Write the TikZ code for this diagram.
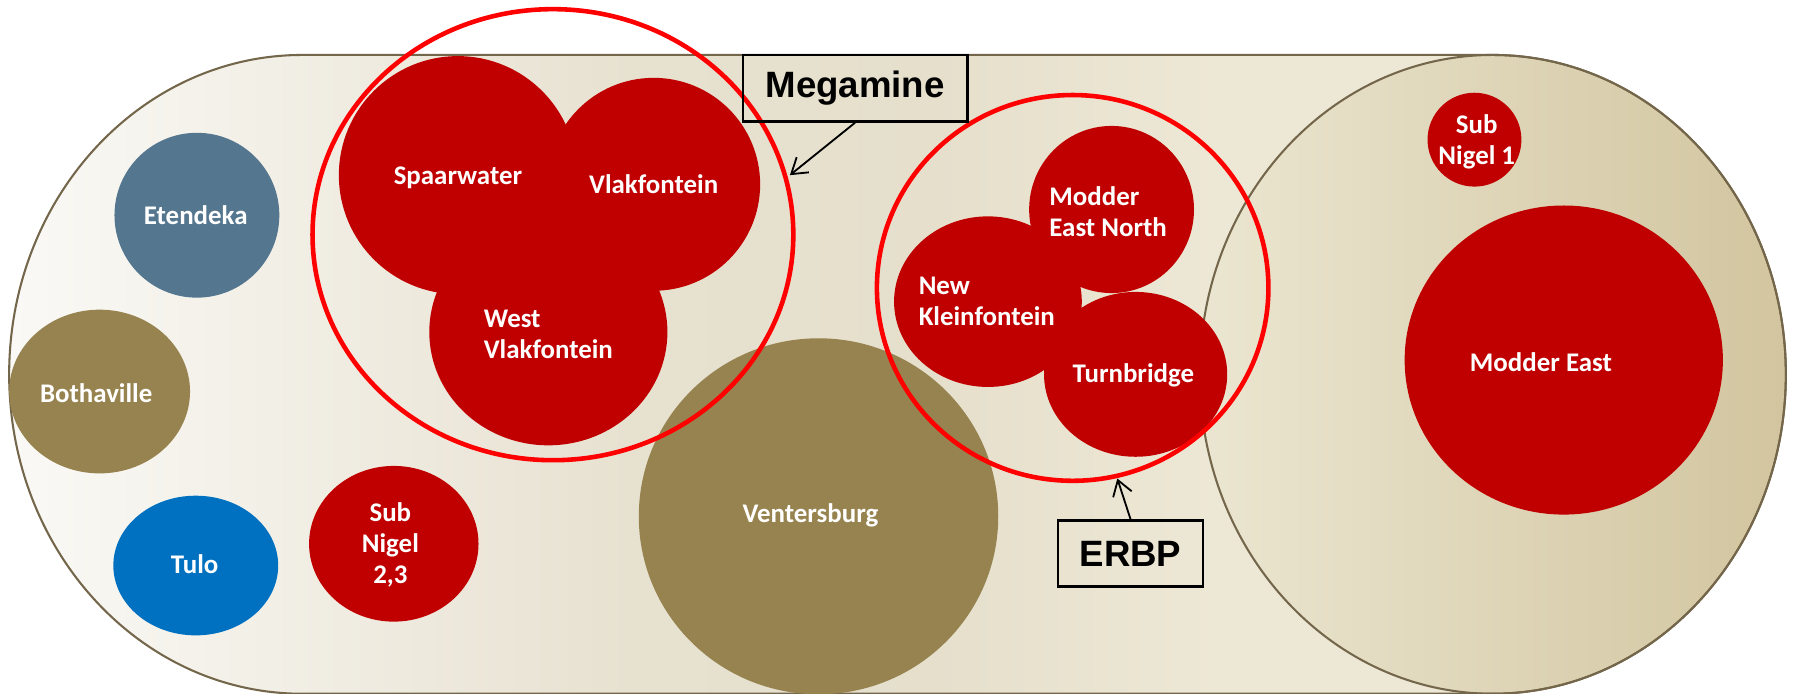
\documentclass[tikz,border=0pt]{standalone}
\usepackage{fontspec}
\newfontfamily\bubfont{Carlito}
\newfontfamily\boxfont{Liberation Sans}
\usetikzlibrary{arrows.meta,shapes.geometric}
\definecolor{bubred}{HTML}{C00000}
\definecolor{ringred}{HTML}{FF0000}
\definecolor{slate}{HTML}{54768F}
\definecolor{olivebub}{HTML}{97834F}
\definecolor{tuloblue}{HTML}{0070C0}
\definecolor{edgecol}{HTML}{73664A}
\definecolor{bgA}{HTML}{FAF9F6}
\definecolor{bgM}{HTML}{E7E1D0}
\definecolor{bgN}{HTML}{E5DFCC}
\definecolor{bgC}{HTML}{EDE8D5}
\definecolor{capA}{HTML}{EBE6D1}
\definecolor{capB}{HTML}{D2C59F}
\pgfdeclarehorizontalshading{bodyshade}{100bp}{color(0bp)=(bgA); color(25bp)=(bgA); color(42.5bp)=(bgM); color(51bp)=(bgN); color(59bp)=(bgC); color(100bp)=(bgC)}
\begin{document}
\begin{tikzpicture}[x=1pt,y=-1pt,
  bubble/.style 2 args={ellipse, draw=none, inner sep=0pt, minimum width=#1, minimum height=#2},
  lbl/.style={text=white, font=\bubfont\bfseries\fontsize{23.5}{27}\selectfont, align=left, inner sep=0pt},
  lblc/.style={lbl, align=center},
  ring/.style={draw=ringred, line width=4pt, ellipse, inner sep=0pt},
  tagbox/.style={draw=black, line width=2.2pt, inner sep=0pt, font=\boxfont\bfseries\fontsize{32}{38}\selectfont},
  arr/.style={-{Straight Barb[length=13pt,width=17pt]}, line width=1.6pt}]
\useasboundingbox (0,0) rectangle (1568,606);
% cylinder body
\path[shading=bodyshade]
  (264,48) -- (1304,48) arc[start angle=-90, end angle=90, x radius=256, y radius=279]
  -- (264,606) arc[start angle=90, end angle=270, x radius=256, y radius=279] -- cycle;
% cap
\path[left color=capA, right color=capB] (1304,327) ellipse[x radius=256, y radius=279];
\draw[edgecol, line width=1.8pt]
  (264,48) -- (1304,48) arc[start angle=-90, end angle=90, x radius=256, y radius=279]
  -- (264,606) arc[start angle=90, end angle=270, x radius=256, y radius=279] -- cycle;
\draw[edgecol, line width=1.8pt] (1304,327) ellipse[x radius=256, y radius=279];
% bubbles
\node[bubble={144}{144}, fill=slate] (etend) at (172,188) {};
\node[bubble={158}{143}, fill=olivebub] (both) at (87,342) {};
\node[bubble={144}{122}, fill=tuloblue] (tulo) at (171,494) {};
\node[bubble={148}{136}, fill=bubred] (sn23) at (344,475) {};
\node[bubble={314}{311}, fill=olivebub] (vent) at (715,451) {};
\node[bubble={208}{208}, fill=bubred] (spaar) at (400,153) {};
\node[bubble={186}{186}, fill=bubred] (vlak) at (571,161) {};
\node[bubble={208}{198}, fill=bubred] (wvlak) at (479,290) {};
\node[bubble={144}{146}, fill=bubred] (men) at (971,183) {};
\node[bubble={164}{149}, fill=bubred] (newk) at (863,263.5) {};
\node[bubble={160}{144}, fill=bubred] (turn) at (992,327) {};
\node[bubble={82}{82}, fill=bubred] (sn1) at (1288,122) {};
\node[bubble={278}{270}, fill=bubred] (mode) at (1366,314.5) {};
% labels
\node[lbl] (tetend) at (171,188) {Etendeka};
\node[lbl] (tboth) at (84,343) {Bothaville};
\node[lbl] (ttulo) at (170,493) {Tulo};
\node[lblc] (tsn23) at (341,476) {Sub\\Nigel\\2,3};
\node[lbl] (tvent) at (708,450) {Ventersburg};
\node[lbl] (tspaar) at (400,155) {Spaarwater};
\node[lbl] (tvlak) at (571,161) {Vlakfontein};
\node[lbl] (twvlak) at (479,292) {West\\Vlakfontein};
\node[lbl] (tmen) at (968,185) {Modder\\East North};
\node[lbl] (tnewk) at (862,263) {New\\Kleinfontein};
\node[lbl] (tturn) at (990,328) {Turnbridge};
\node[lblc] (tsn1) at (1290,124) {Sub\\Nigel 1};
\node[lbl] (tmode) at (1346,316) {Modder East};
% rings
\node[ring, minimum width=420, minimum height=394] (megaring) at (483,205) {};
\node[ring, minimum width=342, minimum height=337] (erbpring) at (937,251.5) {};
% tags
\node[tagbox, minimum width=196, minimum height=58] (megabox) at (747,77) {Megamine};
\node[tagbox, minimum width=127, minimum height=58] (erbpbox) at (987.5,483.5) {ERBP};
\coordinate (megatip) at (690,153);
\coordinate (erbptip) at (976,418);
\draw[arr] (megabox.south) -- (megatip);
\draw[arr] (erbpbox.north) -- (erbptip);
\end{tikzpicture}
\end{document}
